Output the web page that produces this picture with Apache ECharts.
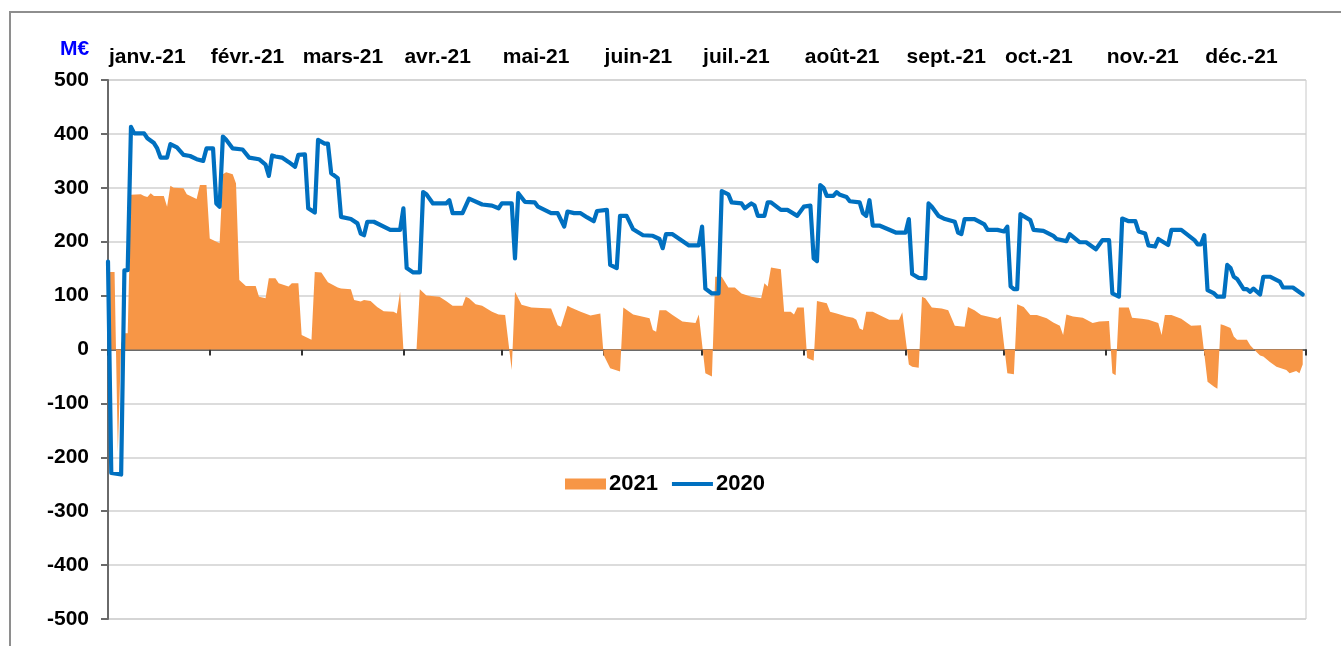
<!DOCTYPE html>
<html>
<head>
<meta charset="utf-8">
<title>M€ 2021 / 2020</title>
<script src="https://cdn.jsdelivr.net/npm/echarts@6/dist/echarts.min.js"></script>
<style>
html, body { margin:0; padding:0; background:#fff; }
#main { width:1341px; height:646px; }
</style>
</head>
<body>
<div id="main"></div>
<script>
// libellés des mois (axe du haut)
var months = ['janv.-21', 'févr.-21', 'mars-21', 'avr.-21', 'mai-21', 'juin-21',
              'juil.-21', 'août-21', 'sept.-21', 'oct.-21', 'nov.-21', 'déc.-21'];
var yTicks = [-500, -400, -300, -200, -100, 0, 100, 200, 300, 400, 500];

// 2021 : jour de l'année (0 = 1er janvier) et valeur en M€
var day2021 = [0, 2, 3, 4, 5, 6, 7, 10, 11, 12, 13, 14, 17, 18, 19, 20, 23, 24, 27, 28, 30,
  31, 34, 35, 36, 38, 39, 40, 42, 45, 46, 48, 49, 51, 52, 55, 56, 58,
  59, 62, 63, 65, 67, 70, 71, 74, 75, 77, 78, 80, 82, 84, 87, 88, 89,
  90, 94, 95, 97, 101, 103, 105, 108, 109, 110, 112, 114, 117, 119,
  121, 123, 124, 126, 129, 135, 137, 138, 140, 141, 144, 147, 150,
  151, 153, 156, 157, 160, 165, 166, 167, 168, 170, 172, 175, 179, 180,
  182, 184, 185, 187, 189, 191, 193, 196, 199, 200, 201, 202, 205, 206, 208, 209, 210,
  212, 213, 215, 216, 219, 220, 222, 225, 227, 228, 229, 230, 231, 233, 235, 238, 241, 242,
  244, 245, 247, 248, 249, 251, 254, 256, 258, 261, 262, 264, 266, 268, 271, 272,
  274, 276, 277, 279, 281, 283, 286, 288, 290, 291, 292, 294, 297, 300, 302, 305,
  306, 307, 308, 311, 312, 315, 317, 320, 321, 322, 324, 327, 330, 333,
  335, 337, 338, 339, 340, 342, 343, 344, 347, 348, 350, 351, 352, 354, 356, 359, 360, 362, 363, 364];
var val2021 = [144, 144, -190, 10, 30, 30, 287, 288, 285, 283, 290, 285, 285, 265, 304, 300, 299, 288, 279, 305, 305,
  206, 197, 325, 329, 325, 308, 129, 118, 118, 98, 95, 132, 132, 123, 117, 123, 123,
  27, 18, 144, 143, 125, 115, 113, 112, 92, 89, 92, 90, 79, 71, 70, 67, 107,
  0, 0, 112, 100, 98, 90, 81, 81, 98, 95, 84, 81, 70, 65,
  64, -38, 107, 83, 78, 76, 45, 42, 81, 78, 70, 63, 67,
  -10, -35, -41, 78, 65, 58, 36, 33, 73, 73, 64, 52, 49, 65,
  -44, -50, 135, 135, 115, 115, 104, 98, 95, 123, 117, 152, 149, 70, 70, 65, 78,
  78, -16, -21, 90, 86, 70, 67, 61, 59, 55, 39, 36, 70, 70, 64, 55, 55, 69,
  -28, -32, -34, 98, 95, 78, 76, 73, 44, 42, 79, 73, 64, 61, 57, 61,
  -44, -46, 84, 79, 64, 64, 58, 50, 44, 27, 65, 61, 59, 49, 52, 53,
  -44, -48, 78, 78, 59, 57, 55, 49, 27, 64, 64, 57, 44, 45,
  -60, -69, -73, 47, 45, 40, 24, 18, 18, 8, -5, -11, -13, -23, -32, -38, -44, -40, -44, -28];

// 2020 : même repère de jours
var day2020 = [0, 1, 4, 5, 6, 7, 8, 11, 12, 14, 15, 16, 18, 19, 21, 23, 25, 27, 29, 30,
  32, 33, 34, 35, 36, 38, 41, 43, 46, 48, 49, 50, 51, 53, 55, 57, 58,
  60, 61, 63, 64, 66, 67, 68, 70, 71, 74, 76, 77, 78, 79, 81, 86, 89,
  90, 91, 93, 95, 96, 97, 99, 103, 104, 105, 108, 110, 114, 117, 119,
  120, 123, 124, 125, 127, 130, 131, 135, 137, 139, 140, 142, 144, 146, 148, 149,
  152, 153, 155, 156, 158, 160, 163, 166, 168, 169, 170, 172, 177, 180,
  181, 182, 184, 186, 187, 189, 190, 193, 194, 196, 197, 198, 200, 201, 202, 205, 207, 210,
  212, 214, 215, 216, 217, 218, 219, 221, 222, 223, 225, 226, 229, 230, 231, 232, 233, 235, 240,
  243, 244, 245, 247, 249, 250, 251, 253, 255, 258, 259, 260, 261, 264, 267, 268, 271,
  273, 274, 275, 276, 277, 278, 281, 282, 285, 288, 289, 292, 293, 296, 298, 301, 303,
  305, 306, 308, 309, 311, 313, 314, 316, 317, 319, 320, 323, 324, 327, 331, 332,
  333, 334, 335, 337, 338, 340, 341, 342, 343, 344, 346, 347, 348, 349, 351, 352, 354, 357, 358, 361, 364];
var val2020 = [163, -229, -232, 147, 147, 413, 401, 401, 392, 383, 373, 356, 356, 381, 375, 361, 359, 353, 350, 373,
  373, 271, 265, 395, 389, 373, 371, 356, 353, 343, 322, 360, 358, 356, 348, 339, 361,
  362, 262, 254, 389, 382, 382, 327, 318, 246, 242, 234, 215, 212, 237, 237, 222, 222,
  262, 151, 143, 143, 292, 288, 271, 271, 277, 253, 253, 280, 269, 267, 262,
  271, 271, 169, 290, 274, 273, 265, 253, 253, 228, 256, 253, 253, 245, 238, 257,
  259, 157, 151, 248, 248, 223, 212, 211, 205, 188, 214, 214, 193, 193,
  228, 113, 104, 104, 294, 288, 273, 271, 262, 271, 267, 248, 248, 273, 273, 259, 259, 248,
  265, 267, 169, 164, 305, 300, 285, 285, 292, 287, 283, 275, 273, 253, 248, 277, 230, 230, 217,
  217, 242, 140, 133, 132, 271, 265, 248, 242, 237, 217, 214, 242, 242, 232, 222, 222,
  219, 228, 117, 112, 112, 251, 240, 222, 220, 211, 205, 201, 214, 199, 199, 186, 203,
  203, 104, 98, 243, 238, 238, 219, 215, 193, 191, 205, 194, 222, 222, 203, 195,
  195, 212, 110, 104, 98, 98, 157, 151, 135, 131, 112, 112, 107, 113, 102, 135, 135, 126, 115, 115, 102];

// catégories : un jour par point, du 1er janvier 2021 au 1er janvier 2022
var days = [];
for (var i = 0; i <= 365; i++) {
  var d = new Date(2021, 0, 1 + i);
  var mm = ('0' + (d.getMonth() + 1)).slice(-2);
  var dd = ('0' + d.getDate()).slice(-2);
  days.push(d.getFullYear() + '-' + mm + '-' + dd);
}
function isMonthStart(i) {
  return days[i].slice(8) == '01';
}
function pairs(xs, ys) {
  var out = [];
  for (var k = 0; k < xs.length; k++) out.push([xs[k], ys[k]]);
  return out;
}

var font = '"Liberation Sans", Arial, sans-serif';
var myChart = echarts.init(document.getElementById('main'));

var option = {
  animation: false,
  backgroundColor: '#ffffff',
  title: {
    text: 'M€',
    left: 55, top: 34,
    textStyle: { color: '#0000ff', fontSize: 21, fontWeight: 'bold', fontFamily: font }
  },
  graphic: [{
    type: 'rect',
    shape: { x: 10, y: 12, width: 1345, height: 650 },
    style: { fill: 'none', stroke: '#8e8e8e', lineWidth: 2 },
    silent: true
  }],
  legend: {
    data: [
      { name: '2021', icon: 'rect' },
      { name: '2020', icon: 'path://M0,0H42V4H0Z' }
    ],
    left: 565, top: 473,
    padding: 0,
    itemWidth: 41, itemHeight: 11, itemGap: 14,
    textStyle: { color: '#000', fontSize: 22, fontWeight: 'bold', fontFamily: font, padding: [0, 0, 0, -2] }
  },
  grid: {
    left: 108, right: 35, top: 80, bottom: 27,
    show: true, borderColor: '#c8c8c8', borderWidth: 1
  },
  xAxis: [{
    type: 'category',
    data: days,
    boundaryGap: false,
    axisLine: { onZero: true, lineStyle: { color: '#6a6a6a', width: 2 } },
    axisTick: { show: true, length: 6, interval: function (i) { return isMonthStart(i); },
                lineStyle: { color: '#333', width: 2 } },
    axisLabel: { show: false },
    splitLine: { show: false }
  }, {
    type: 'category',
    data: days,
    position: 'top',
    boundaryGap: false,
    axisLine: { show: false },
    axisTick: { show: false },
    splitLine: { show: false },
    axisLabel: {
      interval: function (i) { return isMonthStart(i) && i < 365; },
      formatter: function (v) { return months[parseInt(v.slice(5, 7), 10) - 1]; },
      align: 'left',
      padding: [0, 0, 0, 1],
      margin: 12,
      color: '#000', fontSize: 21, fontWeight: 'bold', fontFamily: font
    }
  }],
  yAxis: {
    type: 'value',
    min: yTicks[0], max: yTicks[yTicks.length - 1], interval: 100,
    axisLine: { show: true, lineStyle: { color: '#6a6a6a', width: 2 } },
    axisTick: { show: true, length: 7, lineStyle: { color: '#6a6a6a', width: 2 } },
    axisLabel: { color: '#000', fontSize: 21, fontWeight: 'bold', fontFamily: font, margin: 19 },
    splitLine: { lineStyle: { color: '#d0d0d0', width: 1.5 } }
  },
  series: [{
    name: '2021',
    type: 'line',
    xAxisIndex: 0,
    data: pairs(day2021, val2021),
    symbol: 'none',
    color: '#f79646',
    lineStyle: { width: 0 },
    areaStyle: { color: '#f79646', opacity: 1 },
    z: 2
  }, {
    name: '2020',
    type: 'line',
    xAxisIndex: 0,
    data: pairs(day2020, val2020),
    symbol: 'none',
    color: '#0070c0',
    lineStyle: { width: 4.2, color: '#0070c0', cap: 'round', join: 'round' },
    z: 3
  }]
};
myChart.setOption(option);
</script>
</body>
</html>
